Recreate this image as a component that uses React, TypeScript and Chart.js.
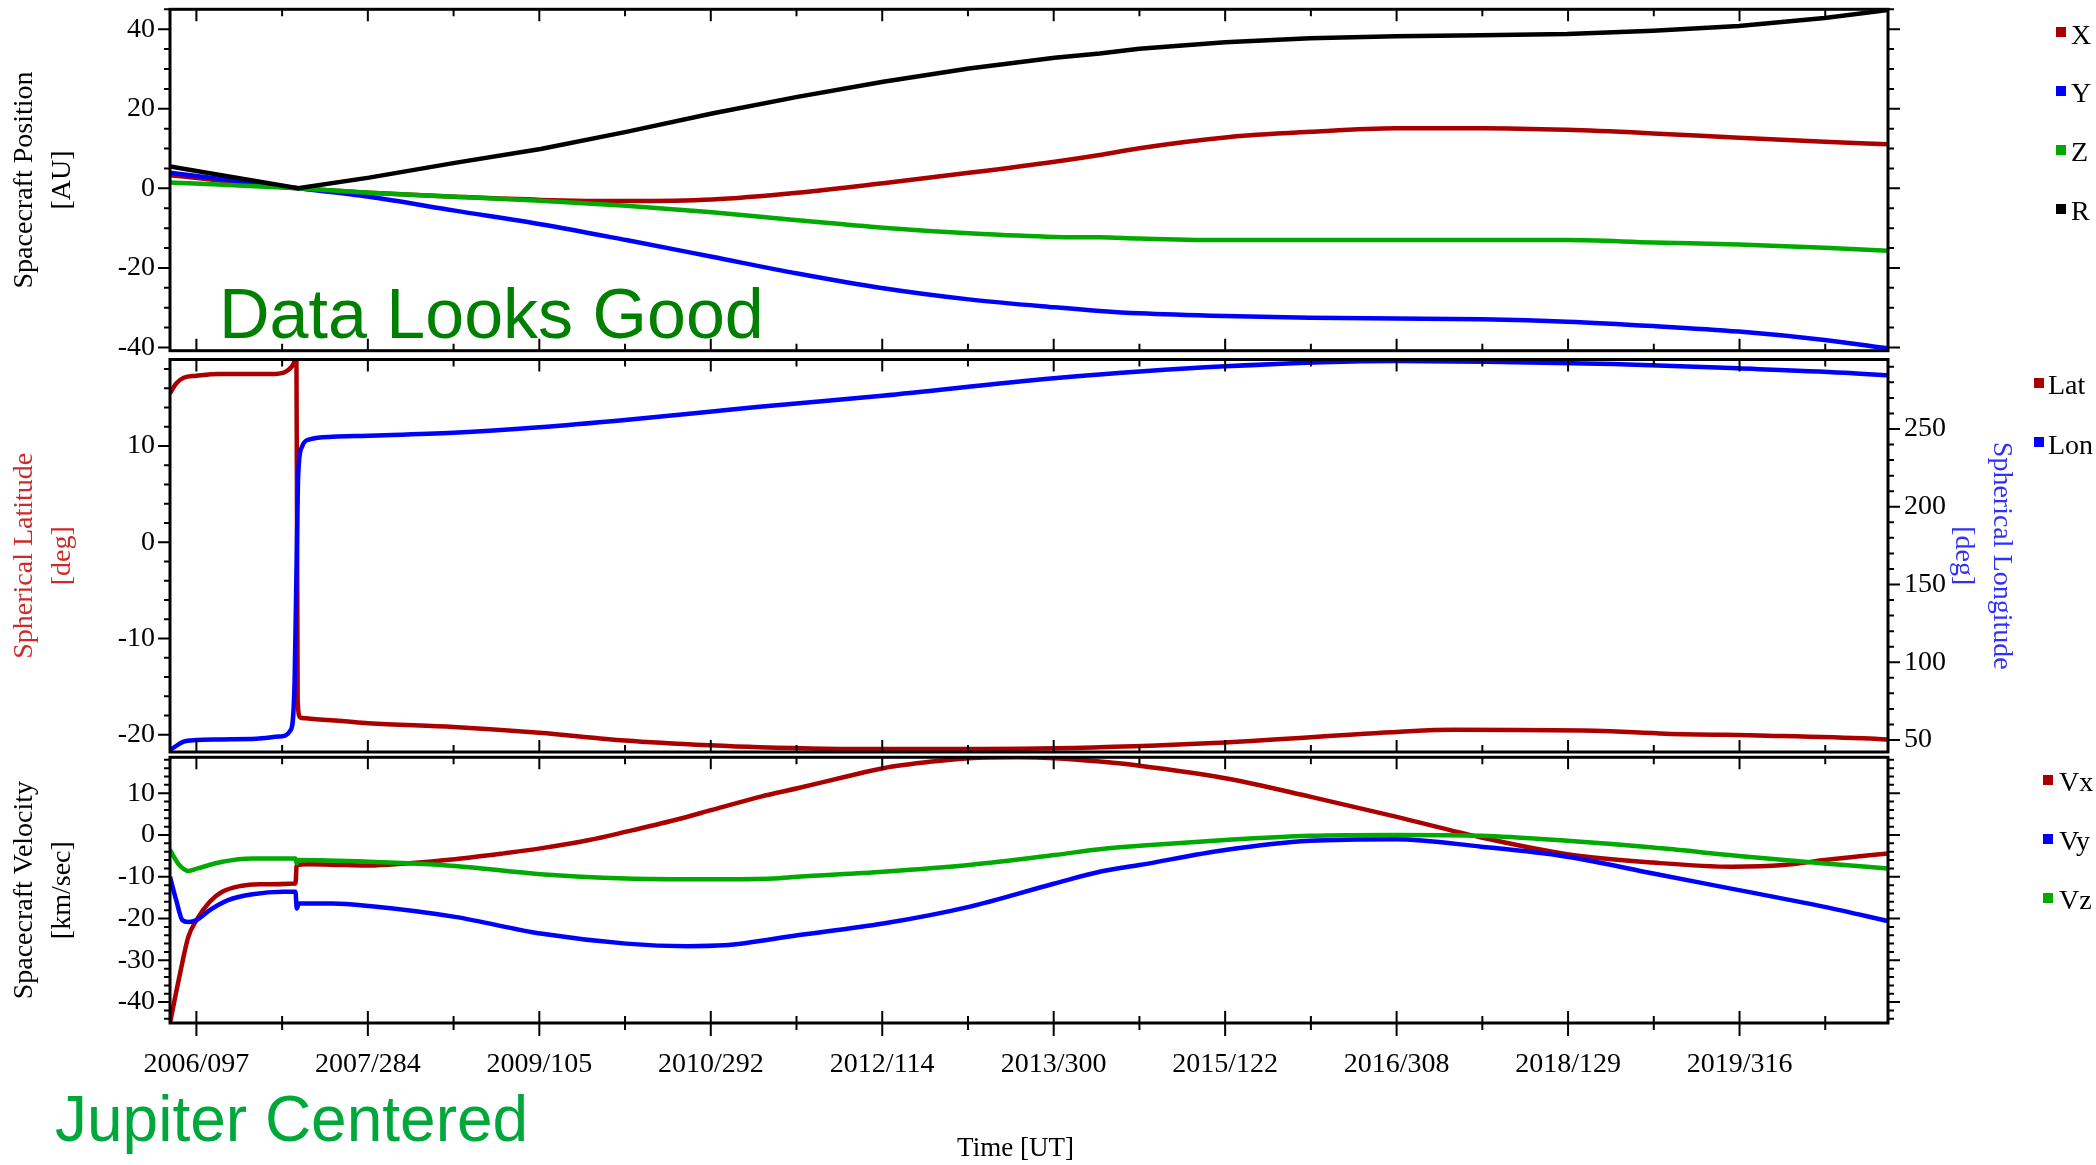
import React, { useEffect, useRef } from "react";
import { Chart, registerables } from "chart.js";

Chart.register(...registerables);

const SERIF = "'Liberation Serif', 'Times New Roman', Times, serif";
const SANS = "'Liberation Sans', Arial, Helvetica, sans-serif";

const RED = "#aa0000";
const BLUE = "#0000ff";
const GREEN = "#00aa00";
const BLACK = "#000000";

// ---------- time axis: days after 2006/097 ----------
const X_MIN = -85;
const X_MAX = 5446;
const XTICK_DAYS = [0, 552, 1104, 1656, 2208, 2760, 3312, 3864, 4416, 4968];
const XTICK_LABELS = [
  "2006/097", "2007/284", "2009/105", "2010/292", "2012/114",
  "2013/300", "2015/122", "2016/308", "2018/129", "2019/316",
];
const X_MINOR_STEP = 276;

// ---------- panel 1: spacecraft position [AU] ----------
const POS_TICKS = [-40, -20, 0, 20, 40];
const POS_DAYS = [-85, 327, 556, 832, 1108, 1384, 1660, 1935, 2211, 2487, 2763, 2908, 3036, 3312, 3585, 3861, 4137, 4413, 4690, 4966, 5242, 5446];
const POS_X = [3.3, 0, -1.1, -2.1, -2.9, -3.2, -2.8, -1.1, 1.3, 3.9, 6.7, 8.4, 10.1, 12.8, 14.2, 15.1, 15.1, 14.7, 13.8, 12.7, 11.7, 11.1];
const POS_Y = [3.9, 0, -2.1, -5.6, -9.0, -13.0, -17.2, -21.4, -25.1, -27.9, -29.9, -30.8, -31.4, -32.1, -32.5, -32.7, -32.9, -33.5, -34.6, -36.0, -38.1, -40.2];
const POS_Z = [1.5, 0, -1.1, -2.1, -3.1, -4.4, -6.0, -8.0, -9.9, -11.3, -12.2, -12.3, -12.6, -13.0, -13.0, -13.0, -13.0, -13.0, -13.6, -14.1, -14.9, -15.7];
const POS_R = [5.5, 0.05, 2.7, 6.4, 9.9, 14.2, 18.8, 23.0, 26.8, 30.1, 32.8, 33.9, 35.1, 36.7, 37.7, 38.2, 38.5, 38.8, 39.6, 40.8, 42.8, 44.8];

// ---------- panel 2: spherical latitude / longitude [deg] ----------
const LAT_TICKS = [-20, -10, 0, 10];
const LON_TICKS = [50, 100, 150, 200, 250];
const LAT_DAYS = [-85, -65, -41, 0, 70, 254, 291, 316, 322, 326, 334, 353, 476, 553, 828, 1104, 1380, 1652, 1813, 2208, 2760, 3312, 3876, 4046, 4503, 4731, 5059, 5388, 5446];
const LAT = [15.5, 16.5, 17.1, 17.3, 17.5, 17.5, 17.8, 18.8, 19.6, -16.5, -18.2, -18.3, -18.6, -18.8, -19.2, -19.8, -20.6, -21.1, -21.3, -21.5, -21.4, -20.8, -19.7, -19.5, -19.6, -19.9, -20.1, -20.4, -20.5];
const LON_DAYS = [-85, -41, 0, 70, 193, 267, 304, 316, 322, 328, 340, 365, 439, 553, 828, 1104, 1380, 1652, 1813, 2208, 2760, 3312, 3864, 4246, 4561, 4960, 5305, 5446];
const LON = [43.5, 49.0, 50.0, 50.4, 50.8, 52.2, 56.5, 86.5, 157, 221.5, 238.6, 243.4, 245.0, 245.7, 247.6, 251.1, 255.8, 261.1, 264.3, 271.4, 282.6, 290.3, 293.8, 293.0, 291.8, 289.0, 286.2, 284.5];

// ---------- panel 3: spacecraft velocity [km/sec] ----------
const VEL_TICKS = [-40, -30, -20, -10, 0, 10];
const VX_DAYS = [-85, -55, -26, 0, 43, 83, 142, 201, 319, 323, 359, 477, 556, 674, 832, 989, 1108, 1265, 1384, 1541, 1660, 1817, 1935, 2093, 2211, 2369, 2487, 2645, 2763, 2908, 3036, 3312, 3585, 3861, 4137, 4413, 4690, 4945, 5110, 5242, 5446];
const VX = [-45, -34, -24.4, -20.4, -16, -13.6, -12.2, -11.8, -11.6, -7.2, -7.0, -7.2, -7.3, -6.8, -5.8, -4.4, -3.2, -1.2, 0.8, 3.6, 6.0, 9.2, 11.2, 14.0, 16.0, 17.6, 18.4, 18.6, 18.4, 17.6, 16.6, 13.6, 9.2, 4.4, -0.6, -4.6, -6.6, -7.6, -7.2, -6.0, -4.4];
const VY_DAYS = [-85, -65, -45, -26, 0, 43, 102, 181, 280, 319, 323, 330, 438, 556, 832, 1108, 1384, 1581, 1699, 1935, 2211, 2487, 2763, 2908, 3036, 3312, 3585, 3861, 4137, 4413, 4690, 4966, 5242, 5446];
const VY = [-10, -15.6, -20.4, -20.8, -20.4, -18, -15.6, -14.2, -13.6, -13.6, -17.6, -16.4, -16.4, -17.0, -19.6, -23.6, -26.0, -26.6, -26.4, -24.0, -21.2, -17.2, -11.6, -8.8, -7.2, -3.6, -1.4, -1.0, -2.8, -5.2, -9.2, -13.2, -17.2, -20.6];
const VZ_DAYS = [-85, -55, -26, 4, 83, 181, 319, 323, 330, 556, 832, 1108, 1384, 1660, 1857, 1935, 2211, 2487, 2763, 2908, 3036, 3312, 3585, 3861, 4137, 4413, 4690, 4966, 5242, 5446];
const VZ = [-3.6, -7.2, -8.6, -8.0, -6.4, -5.6, -5.6, -6.8, -6.0, -6.4, -7.4, -9.4, -10.4, -10.6, -10.4, -10.0, -8.8, -7.2, -4.8, -3.4, -2.6, -1.2, -0.2, 0, -0.2, -1.4, -3.0, -5.0, -6.8, -8.0];

// ---------- helpers ----------
function series(days: number[], vals: number[]) {
  return days.map((d, i) => ({ x: d, y: vals[i] }));
}

function lineDataset(label: string, days: number[], vals: number[], color: string, order: number, yAxisID = "y", straight = false) {
  return {
    label,
    data: series(days, vals),
    borderColor: color,
    backgroundColor: color,
    borderWidth: 4.5,
    pointRadius: 0,
    pointHoverRadius: 0,
    fill: false,
    yAxisID,
    order,
    tension: straight ? 0 : 0.4,
    cubicInterpolationMode: straight ? "default" : "monotone",
  };
}

const frameTicksPlugin = {
  id: "frameTicks",
  afterDatasetsDraw(chart: any, _args: any, opts: any) {
    const { ctx, chartArea } = chart;
    const { left, right, top, bottom } = chartArea;
    const xs = chart.scales.x;
    ctx.save();
    ctx.strokeStyle = "#000";
    ctx.lineWidth = 2;
    ctx.beginPath();
    const k0 = Math.ceil(xs.min / X_MINOR_STEP);
    for (let k = k0; k * X_MINOR_STEP <= xs.max; k++) {
      const d = k * X_MINOR_STEP;
      const major = k % 2 === 0;
      const px = xs.getPixelForValue(d);
      const len = major ? 12 : 7;
      ctx.moveTo(px, top);
      ctx.lineTo(px, top + len);
      ctx.moveTo(px, bottom);
      ctx.lineTo(px, bottom - len);
      if (opts.bottomOutside) {
        ctx.moveTo(px, bottom);
        ctx.lineTo(px, bottom + (major ? 13 : 7));
      }
    }
    for (const ax of opts.yAxes) {
      const s = chart.scales[ax.id];
      const x0 = ax.side === "left" ? left : right;
      const dir = ax.side === "left" ? -1 : 1;
      const first = Math.ceil(s.min / ax.minor - 1e-9);
      for (let k = first; k * ax.minor <= s.max + 1e-9; k++) {
        const v = k * ax.minor;
        const r = v / ax.major;
        const isMajor = Math.abs(r - Math.round(r)) < 1e-6;
        const py = s.getPixelForValue(v);
        const len = isMajor ? 12 : 6;
        ctx.moveTo(x0, py);
        ctx.lineTo(x0 + dir * len, py);
      }
    }
    ctx.stroke();
    ctx.lineWidth = 3;
    ctx.strokeRect(left, top, right - left, bottom - top);
    ctx.restore();
  },
};

function xAxis(show: boolean) {
  return {
    type: "linear",
    min: X_MIN,
    max: X_MAX,
    display: show,
    grid: { display: false, drawTicks: false },
    border: { display: false },
    afterBuildTicks: (s: any) => {
      s.ticks = XTICK_DAYS.map((v) => ({ value: v }));
    },
    afterFit: (s: any) => {
      if (show) s.height = 142;
      s.paddingLeft = 0;
      s.paddingRight = 0;
    },
    ticks: {
      autoSkip: false,
      maxRotation: 0,
      minRotation: 0,
      padding: 25,
      color: "#000",
      font: { family: SERIF, size: 28 },
      callback: (_v: any, i: number) => XTICK_LABELS[i] ?? "",
    },
    title: {
      display: show,
      text: "Time [UT]    ",
      color: "#000",
      font: { family: SERIF, size: 27, lineHeight: 1.2 },
      padding: { top: 0, bottom: 0 },
    },
  };
}

function yAxis(position: "left" | "right", min: number, max: number, ticks: number[], title: string[], titleColor: string, width: number, titlePad: number, labelPad: number) {
  return {
    type: "linear",
    position,
    min,
    max,
    grid: { display: false, drawTicks: false },
    border: { display: false },
    afterBuildTicks: (s: any) => {
      s.ticks = ticks.map((v) => ({ value: v }));
    },
    afterFit: (s: any) => {
      s.width = width;
      s.paddingTop = 0;
      s.paddingBottom = 0;
    },
    ticks: {
      padding: labelPad,
      color: "#000",
      font: { family: SERIF, size: 28 },
      callback: (v: any) => String(v),
    },
    title: {
      display: true,
      text: title,
      color: titleColor,
      font: { family: SERIF, size: 28, lineHeight: 1.36 },
      padding: { top: titlePad, bottom: 0 },
    },
  };
}

function baseOptions(padding: any, scales: any, frame: any) {
  return {
    responsive: false,
    maintainAspectRatio: false,
    animation: false,
    devicePixelRatio: 1,
    events: [],
    layout: { padding },
    scales,
    plugins: {
      legend: { display: false },
      tooltip: { enabled: false },
      frameTicks: frame,
    },
  };
}

function positionConfig() {
  return {
    type: "line",
    data: {
      datasets: [
        lineDataset("X", POS_DAYS, POS_X, RED, 4),
        lineDataset("Y", POS_DAYS, POS_Y, BLUE, 3),
        lineDataset("Z", POS_DAYS, POS_Z, GREEN, 2),
        lineDataset("R", POS_DAYS, POS_R, BLACK, 1, "y", true),
      ],
    },
    options: baseOptions(
      { top: 9.3, bottom: 29.3, left: 0, right: 208 },
      {
        x: xAxis(false),
        y: yAxis("left", -40.8, 45, POS_TICKS, ["Spacecraft Position", "[AU]"], "#000", 170, 5.5, 15),
      },
      {
        bottomOutside: false,
        yAxes: [
          { id: "y", side: "left", major: 20, minor: 5 },
          { id: "y", side: "right", major: 20, minor: 5 },
        ],
      }
    ),
    plugins: [frameTicksPlugin],
  };
}

function sphericalConfig() {
  return {
    type: "line",
    data: {
      datasets: [
        lineDataset("Lat", LAT_DAYS, LAT, RED, 2, "y"),
        lineDataset("Lon", LON_DAYS, LON, BLUE, 1, "y2"),
      ],
    },
    options: baseOptions(
      { top: 19.5, bottom: 18, left: 0, right: 0 },
      {
        x: xAxis(false),
        y: yAxis("left", -21.8, 19.0, LAT_TICKS, ["Spherical Latitude", "[deg]"], "#cc2b2b", 170, 5.5, 15),
        y2: yAxis("right", 42.3, 294.7, LON_TICKS, ["Spherical Longitude", "[deg]"], "#2f2fff", 208, 76, 16),
      },
      {
        bottomOutside: false,
        yAxes: [
          { id: "y", side: "left", major: 10, minor: 2 },
          { id: "y2", side: "right", major: 50, minor: 10 },
        ],
      }
    ),
    plugins: [frameTicksPlugin],
  };
}

function velocityConfig() {
  return {
    type: "line",
    data: {
      datasets: [
        lineDataset("Vx", VX_DAYS, VX, RED, 3),
        lineDataset("Vy", VY_DAYS, VY, BLUE, 2),
        lineDataset("Vz", VZ_DAYS, VZ, GREEN, 1),
      ],
    },
    options: baseOptions(
      { top: 17.3, bottom: 0, left: 0, right: 208 },
      {
        x: xAxis(true),
        y: yAxis("left", -45.0, 18.6, VEL_TICKS, ["Spacecraft Velocity", "[km/sec]"], "#000", 170, 5.5, 15),
      },
      {
        bottomOutside: true,
        yAxes: [
          { id: "y", side: "left", major: 10, minor: 2 },
          { id: "y", side: "right", major: 10, minor: 2 },
        ],
      }
    ),
    plugins: [frameTicksPlugin],
  };
}

function Panel({ makeConfig, top, height }: { makeConfig: () => any; top: number; height: number }) {
  const ref = useRef<HTMLCanvasElement>(null);
  useEffect(() => {
    const chart = new Chart(ref.current as HTMLCanvasElement, makeConfig() as any);
    return () => chart.destroy();
  }, []);
  return (
    <canvas
      ref={ref}
      width={2096}
      height={height}
      style={{ position: "absolute", left: 0, top, width: 2096, height }}
    />
  );
}

const LEGEND_POS = [
  { label: "X", color: RED, sx: 2056, sy: 27, tx: 2071, ty: 21 },
  { label: "Y", color: BLUE, sx: 2056, sy: 86, tx: 2071, ty: 79 },
  { label: "Z", color: GREEN, sx: 2056, sy: 145, tx: 2071, ty: 138 },
  { label: "R", color: BLACK, sx: 2056, sy: 204, tx: 2071, ty: 197 },
  { label: "Lat", color: RED, sx: 2034, sy: 378, tx: 2048, ty: 371 },
  { label: "Lon", color: BLUE, sx: 2034, sy: 437, tx: 2048, ty: 431 },
  { label: "Vx", color: RED, sx: 2043, sy: 775, tx: 2059, ty: 768 },
  { label: "Vy", color: BLUE, sx: 2043, sy: 834, tx: 2059, ty: 827 },
  { label: "Vz", color: GREEN, sx: 2043, sy: 893, tx: 2059, ty: 886 },
];

export default function App() {
  return (
    <div
      style={{
        position: "absolute",
        left: 0,
        top: 0,
        width: 2096,
        height: 1165,
        background: "#ffffff",
        overflow: "hidden",
      }}
    >
      <Panel makeConfig={positionConfig} top={0} height={380} />
      <Panel makeConfig={sphericalConfig} top={340} height={430} />
      <Panel makeConfig={velocityConfig} top={740} height={425} />
      {LEGEND_POS.map((it) => (
        <React.Fragment key={it.label}>
          <div
            style={{
              position: "absolute",
              left: it.sx,
              top: it.sy,
              width: 10,
              height: 10,
              background: it.color,
            }}
          />
          <div
            style={{
              position: "absolute",
              left: it.tx,
              top: it.ty,
              font: `28px/28px ${SERIF}`,
              color: "#000",
              whiteSpace: "nowrap",
            }}
          >
            {it.label}
          </div>
        </React.Fragment>
      ))}
      <div
        style={{
          position: "absolute",
          left: 219,
          top: 279,
          font: `70px/70px ${SANS}`,
          color: "#008000",
          whiteSpace: "nowrap",
        }}
      >
        Data Looks Good
      </div>
      <div
        style={{
          position: "absolute",
          left: 55,
          top: 1087,
          font: `64px/64px ${SANS}`,
          color: "#00a83c",
          whiteSpace: "nowrap",
        }}
      >
        Jupiter Centered
      </div>
    </div>
  );
}
